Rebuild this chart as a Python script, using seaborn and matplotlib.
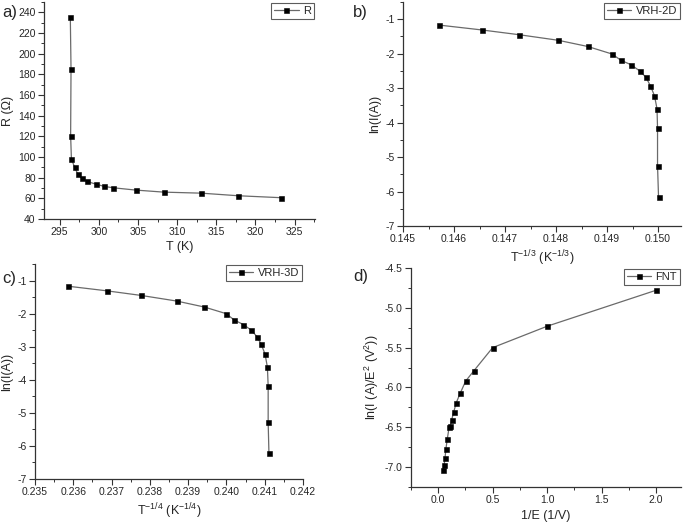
import matplotlib
matplotlib.use("Agg")
import matplotlib.pyplot as plt
import seaborn as sns
import numpy as np
from matplotlib.ticker import MultipleLocator, FormatStrFormatter

# ---- data ----
T_a = [296.36, 296.45, 296.40, 296.50, 296.90, 297.30, 297.85, 298.50,
       299.60, 300.70, 301.85, 304.70, 308.30, 313.10, 317.80, 323.30]
R_a = [235.2, 185.0, 120.7, 98.2, 90.2, 83.7, 79.2, 76.3,
       73.8, 71.5, 70.2, 68.0, 66.0, 65.0, 62.5, 60.6]

x_b = [0.14571, 0.14654, 0.14728, 0.14804, 0.14862, 0.14910, 0.14927, 0.14947,
       0.14964, 0.14976, 0.14985, 0.14993, 0.14998, 0.14999, 0.14999, 0.15001]
y_b = [-1.17, -1.31, -1.45, -1.61, -1.79, -2.01, -2.19, -2.32,
       -2.50, -2.68, -2.93, -3.22, -3.60, -4.16, -5.25, -6.17]

x_c = [0.23585, 0.23687, 0.23777, 0.23870, 0.23942, 0.23999, 0.24020, 0.24044,
       0.24065, 0.24080, 0.24091, 0.24101, 0.24107, 0.24109, 0.24109, 0.24111]
y_c = [-1.17, -1.31, -1.45, -1.62, -1.80, -2.00, -2.19, -2.33,
       -2.50, -2.70, -2.93, -3.23, -3.62, -4.18, -5.29, -6.20]

x_d = [2.00, 1.003, 0.500, 0.328, 0.252, 0.203, 0.166, 0.142,
       0.123, 0.110, 0.100, 0.083, 0.071, 0.062, 0.055, 0.048]
y_d = [-4.78, -5.23, -5.50, -5.79, -5.92, -6.07, -6.19, -6.31,
       -6.41, -6.49, -6.50, -6.65, -6.77, -6.89, -6.97, -7.04]

labels = ["R", "VRH-2D", "VRH-3D", "FNT"]

sns.set_style("ticks")
plt.rcParams['font.family'] = ['Liberation Sans', 'DejaVu Sans']
plt.rcParams['mathtext.fontset'] = 'custom'
plt.rcParams['mathtext.rm'] = 'Liberation Sans'
plt.rcParams['mathtext.it'] = 'Liberation Sans:italic'

W, H = 683, 523
fig = plt.figure(figsize=(W / 100, H / 100), dpi=100)

def add_ax(l, t, r, b):
    return fig.add_axes([l / W, (H - b) / H, (r - l) / W, (b - t) / H])

panels = [
    dict(box=(44, 2, 315, 219), x=T_a, y=R_a, lab=labels[0],
         xlim=(293, 327.6), ylim=(40, 250), xmaj=5, xmin=2.5, ymaj=20, ymin=10,
         xfmt="%d", yfmt="%d", xlabel="T (K)", ylabel="R (Ω)",
         tag="a)", tagpos=(2, 13)),
    dict(box=(403, 2, 681, 226), x=x_b, y=y_b, lab=labels[1],
         xlim=(0.145, 0.15045), ylim=(-7, -0.5), xmaj=0.001, xmin=0.0005, ymaj=1, ymin=0.5,
         xfmt="%.3f", yfmt="%d", xlabel="T$^{-1/3}$ (K$^{-1/3}$)", ylabel="ln(I(A))",
         tag="b)", tagpos=(353, 13)),
    dict(box=(35, 264, 303, 479), x=x_c, y=y_c, lab=labels[2],
         xlim=(0.235, 0.242), ylim=(-7, -0.5), xmaj=0.001, xmin=0.0005, ymaj=1, ymin=0.5,
         xfmt="%.3f", yfmt="%d", xlabel="T$^{-1/4}$ (K$^{-1/4}$)", ylabel="ln(I(A))",
         tag="c)", tagpos=(2, 279)),
    dict(box=(411, 268, 681, 487), x=x_d, y=y_d, lab=labels[3],
         xlim=(-0.25, 2.23), ylim=(-7.25, -4.5), xmaj=0.5, xmin=0.25, ymaj=0.5, ymin=0.25,
         xfmt="%.1f", yfmt="%.1f", xlabel="1/E (1/V)", ylabel="ln(I (A)/E$^2$ (V$^2$))",
         tag="d)", tagpos=(353, 277)),
]

for p in panels:
    ax = add_ax(*p["box"])
    sns.lineplot(x=p["x"], y=p["y"], sort=False, estimator=None, ax=ax,
                 color="#6a6a6a", linewidth=0.9, marker="s", markersize=3.6,
                 markerfacecolor="black", markeredgecolor="black",
                 markeredgewidth=0.4, label=p["lab"])
    ax.set_xlim(*p["xlim"])
    ax.set_ylim(*p["ylim"])
    ax.xaxis.set_major_locator(MultipleLocator(p["xmaj"]))
    ax.xaxis.set_minor_locator(MultipleLocator(p["xmin"]))
    ax.yaxis.set_major_locator(MultipleLocator(p["ymaj"]))
    ax.yaxis.set_minor_locator(MultipleLocator(p["ymin"]))
    ax.xaxis.set_major_formatter(FormatStrFormatter(p["xfmt"]))
    ax.yaxis.set_major_formatter(FormatStrFormatter(p["yfmt"]))
    for s in ["top", "right"]:
        ax.spines[s].set_visible(False)
    for s in ["left", "bottom"]:
        ax.spines[s].set_color("#333333")
        ax.spines[s].set_linewidth(0.9)
    ax.tick_params(which="major", direction="out", length=4, width=0.8,
                   labelsize=7.5, color="#333333", pad=2)
    ax.tick_params(which="minor", direction="out", length=2, width=0.7, color="#333333")
    ax.set_xlabel(p["xlabel"], fontsize=9, labelpad=3)
    ax.set_ylabel(p["ylabel"], fontsize=9, labelpad=3)
    leg = ax.legend(loc="upper right", fontsize=8, frameon=True, fancybox=False,
                    borderaxespad=0.1, handlelength=2.2, handletextpad=0.4,
                    borderpad=0.25, markerscale=1.0)
    leg.get_frame().set_edgecolor("#333333")
    leg.get_frame().set_linewidth(0.8)
    fig.text(p["tagpos"][0] / W, 1 - p["tagpos"][1] / H, p["tag"],
             fontsize=12, ha="left", va="center")

fig.savefig("out.png", dpi=100)
